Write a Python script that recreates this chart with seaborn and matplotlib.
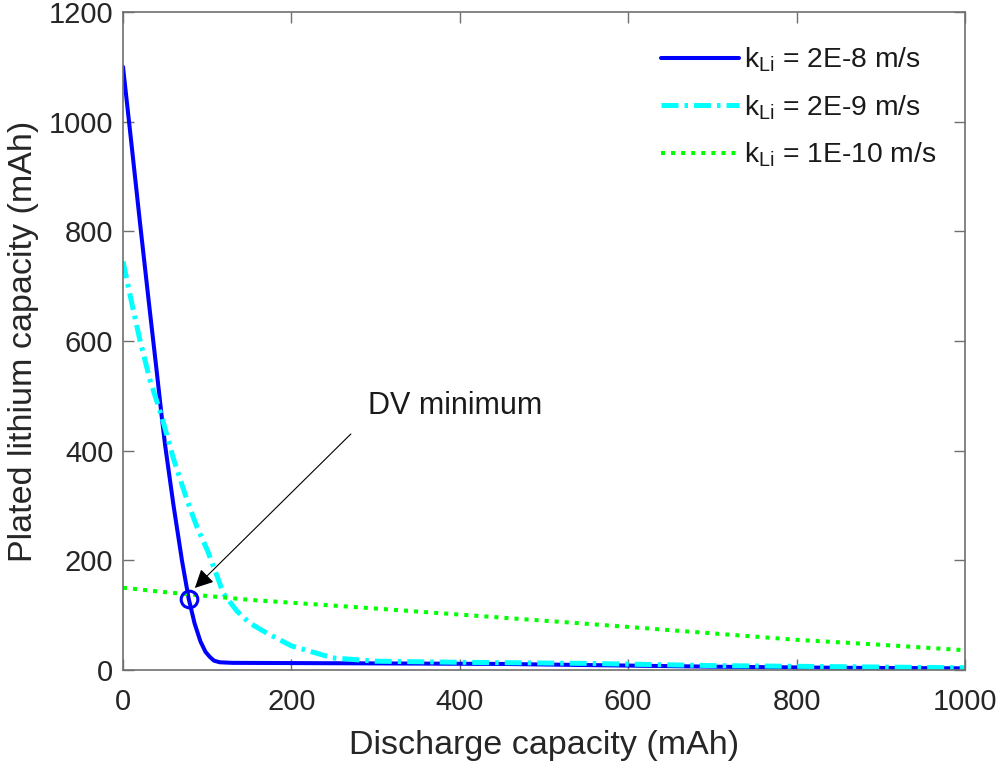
import matplotlib
matplotlib.use('Agg')
import matplotlib.pyplot as plt
import numpy as np
import pandas as pd
import seaborn as sns

# Discharge capacity (mAh) vs plated lithium capacity (mAh)
blue_x = [0, 10, 20, 30, 40, 46, 50, 60, 70, 78, 85, 92, 98, 103, 108, 115, 130, 300, 450, 550, 700, 850, 1000]
blue_y = [1100, 960, 818, 680, 545, 462, 410, 300, 200, 130, 85, 52, 33, 24, 17, 14, 13, 12, 11, 9, 6, 4, 3]

cyan_x = [0, 10, 20, 32, 46, 60, 76, 88, 100, 112, 119, 135, 150, 171, 200, 249, 300, 400, 550, 700, 850, 1000]
cyan_y = [745, 672, 602, 529, 462, 385, 310, 260, 219, 170, 140, 108, 86, 67, 44, 22, 16, 14, 12, 8, 6, 4]

green_x = [0, 50, 100, 150, 310, 535, 570, 800, 900, 1000]
green_y = [150, 142, 135, 128, 111, 86, 82, 55, 46, 36]

dv_x = [78]
dv_y = [130]

labels = [r'k$_{\mathrm{Li}}$ = 2E-8 m/s', r'k$_{\mathrm{Li}}$ = 2E-9 m/s', r'k$_{\mathrm{Li}}$ = 1E-10 m/s']

sns.set_style('ticks')
plt.rcParams['font.family'] = ['Liberation Sans', 'DejaVu Sans']
plt.rcParams['mathtext.fontset'] = 'custom'
plt.rcParams['mathtext.rm'] = 'Liberation Sans'
plt.rcParams['mathtext.it'] = 'Liberation Sans:italic'

fig = plt.figure(figsize=(10, 7.67), dpi=100)
ax = fig.add_axes([0.123, 0.1265, 0.842, 0.8579])

sns.lineplot(x=blue_x, y=blue_y, ax=ax, color=(0, 0, 1), lw=2.9, label=labels[0], estimator=None, sort=False)
sns.lineplot(x=cyan_x, y=cyan_y, ax=ax, color=(0, 1, 1), lw=3.6, label=labels[1], estimator=None, sort=False)
sns.lineplot(x=green_x, y=green_y, ax=ax, color=(0, 1, 0), lw=2.9, label=labels[2], estimator=None, sort=False)
ax.lines[1].set_dashes((3.4, 1.2, 0.7, 1.2))
ax.lines[2].set_dashes((1.0, 1.5))
ax.lines[2].set_dash_capstyle('butt')

ax.plot(dv_x, dv_y, 'o', mfc='none', mec=(0, 0, 1), ms=12, mew=2.2)

ax.annotate('', xy=(83, 146), xytext=(273, 434),
            arrowprops=dict(arrowstyle='-|>', color='black', lw=0.8, mutation_scale=28))
ax.text(291, 481, 'DV minimum', fontsize=22, ha='left', va='center', color='#1a1a1a')

ax.set_xlim(0, 1000)
ax.set_ylim(0, 1200)
ax.set_xticks(np.arange(0, 1001, 200))
ax.set_yticks(np.arange(0, 1201, 200))
ax.set_xlabel('Discharge capacity (mAh)', fontsize=24.5, color='#262626', labelpad=10)
ax.set_ylabel('Plated lithium capacity (mAh)', fontsize=24.5, color='#262626', labelpad=7)
ax.tick_params(direction='in', length=8, width=1, colors='#707070', labelcolor='#262626',
               labelsize=21, top=True, right=True)
ax.tick_params(axis='x', pad=13)
ax.tick_params(axis='y', pad=7)
for s in ax.spines.values():
    s.set_visible(True)
    s.set_color('#707070')
    s.set_linewidth(1.2)

leg = ax.legend(loc='upper right', frameon=False, fontsize=20.3, handlelength=2.77,
                labelspacing=0.68, handletextpad=0.18, borderaxespad=0,
                bbox_to_anchor=(0.98, 0.966))
for t in leg.get_texts():
    t.set_color('#1a1a1a')

fig.savefig('out.png', dpi=100)
